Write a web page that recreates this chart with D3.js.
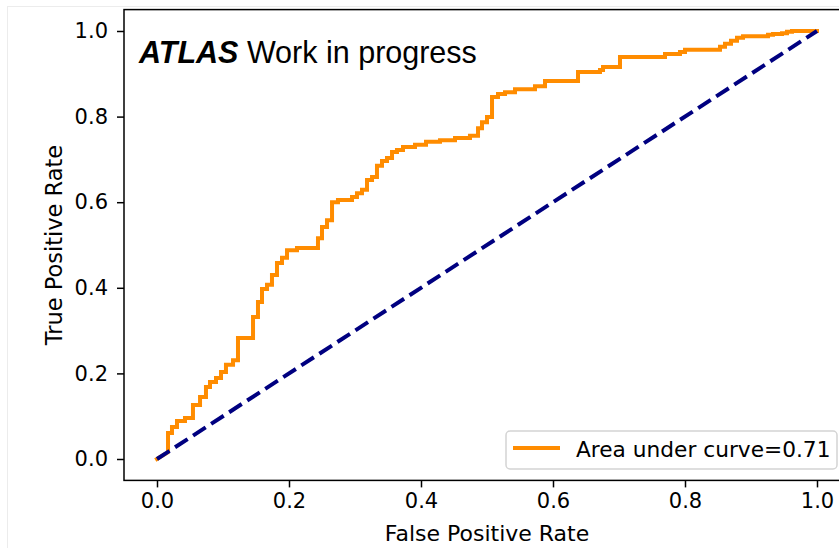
<!DOCTYPE html>
<html>
<head>
<meta charset="utf-8">
<script src="https://cdn.jsdelivr.net/npm/d3@7"></script>
<style>
  html, body { margin: 0; padding: 0; background: #fff; }
  svg { display: block; }
</style>
</head>
<body>
<svg id="chart" width="839" height="548"></svg>
<script>
// ROC curve corner points (false positive rate, true positive rate)
const fpr = [
  0, 0.0167, 0.0167, 0.0227, 0.0227, 0.0303, 0.0303, 0.0424, 0.0424, 0.0545,
  0.0545, 0.0652, 0.0652, 0.0742, 0.0742, 0.0803, 0.0803, 0.0894, 0.0894, 0.0970,
  0.0970, 0.1045, 0.1045, 0.1152, 0.1152, 0.1227, 0.1227, 0.1455, 0.1455, 0.1530,
  0.1530, 0.1591, 0.1591, 0.1667, 0.1667, 0.1742, 0.1742, 0.1818, 0.1818, 0.1894,
  0.1894, 0.1970, 0.1970, 0.2121, 0.2121, 0.2439, 0.2439, 0.2500, 0.2500, 0.2576,
  0.2576, 0.2652, 0.2652, 0.2742, 0.2742, 0.2955, 0.2955, 0.3030, 0.3030, 0.3106,
  0.3106, 0.3182, 0.3182, 0.3258, 0.3258, 0.3333, 0.3333, 0.3409, 0.3409, 0.3485,
  0.3485, 0.3561, 0.3561, 0.3636, 0.3636, 0.3727, 0.3727, 0.3909, 0.3909, 0.4076,
  0.4076, 0.4288, 0.4288, 0.4515, 0.4515, 0.4742, 0.4742, 0.4864, 0.4864, 0.4924,
  0.4924, 0.5000, 0.5000, 0.5076, 0.5076, 0.5167, 0.5167, 0.5273, 0.5273, 0.5424,
  0.5424, 0.5727, 0.5727, 0.5879, 0.5879, 0.6379, 0.6379, 0.6712, 0.6712, 0.6758,
  0.6758, 0.7015, 0.7015, 0.7697, 0.7697, 0.7924, 0.7924, 0.8000, 0.8000, 0.8530,
  0.8530, 0.8606, 0.8606, 0.8697, 0.8697, 0.8788, 0.8788, 0.8879, 0.8879, 0.9258,
  0.9258, 0.9333, 0.9333, 0.9470, 0.9470, 0.9545, 0.9545, 0.9621, 0.9621, 1.0
];
const tpr = [
  0, 0.016, 0.061, 0.061, 0.075, 0.075, 0.089, 0.089, 0.096, 0.096,
  0.126, 0.126, 0.145, 0.145, 0.168, 0.168, 0.180, 0.180, 0.189, 0.189,
  0.203, 0.203, 0.220, 0.220, 0.231, 0.231, 0.283, 0.283, 0.332, 0.332,
  0.367, 0.367, 0.397, 0.397, 0.407, 0.407, 0.430, 0.430, 0.458, 0.458,
  0.470, 0.470, 0.488, 0.488, 0.493, 0.493, 0.516, 0.516, 0.542, 0.542,
  0.558, 0.558, 0.600, 0.600, 0.605, 0.605, 0.612, 0.612, 0.621, 0.621,
  0.629, 0.629, 0.652, 0.652, 0.659, 0.659, 0.685, 0.685, 0.696, 0.696,
  0.703, 0.703, 0.717, 0.717, 0.722, 0.722, 0.729, 0.729, 0.734, 0.734,
  0.741, 0.741, 0.745, 0.745, 0.750, 0.750, 0.755, 0.755, 0.773, 0.773,
  0.787, 0.787, 0.799, 0.799, 0.846, 0.846, 0.853, 0.853, 0.857, 0.857,
  0.864, 0.864, 0.871, 0.871, 0.883, 0.883, 0.904, 0.904, 0.909, 0.909,
  0.916, 0.916, 0.939, 0.939, 0.946, 0.946, 0.951, 0.951, 0.956, 0.956,
  0.963, 0.963, 0.970, 0.970, 0.977, 0.977, 0.984, 0.984, 0.988, 0.988,
  0.991, 0.991, 0.993, 0.993, 0.995, 0.995, 0.998, 0.998, 1.0, 1.0
];
// Chance line
const chanceX = [0, 1];
const chanceY = [0, 1];

const tickValues = [0.0, 0.2, 0.4, 0.6, 0.8, 1.0];
const aucValue = 0.71;
const legendLabel = "Area under curve=" + aucValue.toFixed(2);
const xLabel = "False Positive Rate";
const yLabel = "True Positive Rate";

const svg = d3.select("#chart");

// faint outer border of the figure
svg.append("rect")
  .attr("x", 7.5).attr("y", 6.5).attr("width", 840).attr("height", 560)
  .attr("fill", "none").attr("stroke", "#ececec").attr("stroke-width", 1);

const x = d3.scaleLinear().domain([-0.05, 1.05]).range([124, 850]);
const y = d3.scaleLinear().domain([-0.05, 1.05]).range([480.4, 9.6]);

const tickFont = "DejaVu Sans, sans-serif";

// x axis
const xAxis = svg.append("g")
  .attr("transform", `translate(0,${y(-0.05)})`)
  .call(d3.axisBottom(x).tickValues(tickValues).tickFormat(d3.format(".1f"))
    .tickSizeInner(7).tickSizeOuter(0).tickPadding(6));
// y axis
const yAxis = svg.append("g")
  .attr("transform", `translate(${x(-0.05)},0)`)
  .call(d3.axisLeft(y).tickValues(tickValues).tickFormat(d3.format(".1f"))
    .tickSizeInner(7).tickSizeOuter(0).tickPadding(9));

[xAxis, yAxis].forEach(g => {
  g.select(".domain").remove();
  g.selectAll(".tick line").attr("stroke", "#000").attr("stroke-width", 1.5);
  g.selectAll(".tick text")
    .attr("fill", "#000")
    .style("font-family", tickFont)
    .style("font-size", "21px");
});

// axes frame
svg.append("rect")
  .attr("x", x(-0.05)).attr("y", y(1.05))
  .attr("width", x(1.05) - x(-0.05)).attr("height", y(-0.05) - y(1.05))
  .attr("fill", "none").attr("stroke", "#000").attr("stroke-width", 1.5);

// axis labels
svg.append("text")
  .attr("x", x(0.5)).attr("y", 541)
  .attr("text-anchor", "middle")
  .style("font-family", tickFont).style("font-size", "22px")
  .text(xLabel);
svg.append("text")
  .attr("transform", `translate(62,${y(0.5)}) rotate(-90)`)
  .attr("text-anchor", "middle")
  .style("font-family", tickFont).style("font-size", "22.5px")
  .text(yLabel);

// ROC curve
const rocPoints = fpr.map((f, i) => [f, tpr[i]]);
const line = d3.line().x(d => x(d[0])).y(d => y(d[1]));
svg.append("path")
  .datum(rocPoints)
  .attr("d", line)
  .attr("fill", "none")
  .attr("stroke", "#ff8c00")
  .attr("stroke-width", 4)
  .attr("stroke-linejoin", "miter")
  .attr("stroke-linecap", "square");

// diagonal reference line
svg.append("path")
  .datum(chanceX.map((v, i) => [v, chanceY[i]]))
  .attr("d", line)
  .attr("fill", "none")
  .attr("stroke", "#000080")
  .attr("stroke-width", 4)
  .attr("stroke-dasharray", "15,6.5");

// experiment label
const title = svg.append("text")
  .attr("x", 139).attr("y", 63)
  .style("font-family", "Liberation Sans, Arial, Helvetica, sans-serif")
  .style("font-size", "30.5px")
  .attr("fill", "#000");
title.append("tspan").style("font-weight", "bold").style("font-style", "italic").text("ATLAS");
title.append("tspan").text(" Work in progress");

// legend
const lg = svg.append("g");
lg.append("rect")
  .attr("x", 506).attr("y", 431).attr("width", 331).attr("height", 38)
  .attr("rx", 4).attr("ry", 4)
  .attr("fill", "#fff").attr("fill-opacity", 0.8)
  .attr("stroke", "#d4d4d4").attr("stroke-width", 1.5);
lg.append("line")
  .attr("x1", 513).attr("x2", 560).attr("y1", 448).attr("y2", 448)
  .attr("stroke", "#ff8c00").attr("stroke-width", 4);
lg.append("text")
  .attr("x", 576).attr("y", 457)
  .style("font-family", tickFont).style("font-size", "21.7px")
  .text(legendLabel);
</script>
</body>
</html>
